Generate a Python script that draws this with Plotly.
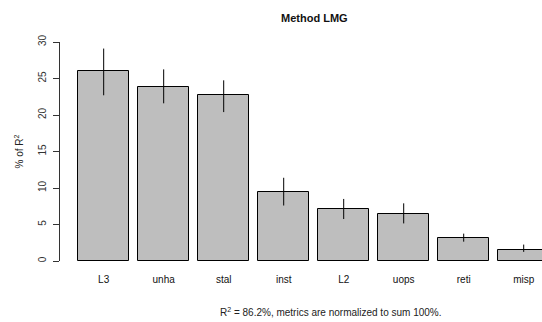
import plotly.graph_objects as go

categories = ["L3", "unha", "stal", "inst", "L2", "uops", "reti", "misp"]
values = [26.0, 23.9, 22.7, 9.5, 7.1, 6.4, 3.1, 1.55]
lower = [22.7, 21.6, 20.4, 7.6, 5.75, 5.15, 2.65, 1.25]
upper = [29.1, 26.25, 24.75, 11.4, 8.5, 7.9, 3.75, 2.25]
y_ticks = [0, 5, 10, 15, 20, 25, 30]

err_plus = [u - v for u, v in zip(upper, values)]
err_minus = [v - l for v, l in zip(values, lower)]

W, H = 542, 322
L, R, T, B = 60, 0, 42, 61
pw = W - L - R

def px(x):
    return (x - L) / pw

fig = go.Figure(go.Bar(
    x=categories, y=values,
    width=0.845,
    marker=dict(color="#bebebe", line=dict(color="black", width=1)),
    error_y=dict(type="data", symmetric=False, array=err_plus, arrayminus=err_minus,
                 color="black", thickness=1, width=0),
))

font = "Liberation Sans, Arial, Helvetica, sans-serif"
fig.update_layout(
    width=W, height=H,
    margin=dict(l=L, r=R, t=T, b=B, pad=0),
    paper_bgcolor="white", plot_bgcolor="white",
    showlegend=False,
    font=dict(family=font, size=10, color="#222"),
    bargap=0,
    xaxis=dict(range=[-0.728, 7.305], showline=False, showgrid=False, zeroline=False,
               ticks="outside", ticklen=9, tickcolor="rgba(0,0,0,0)",
               tickfont=dict(size=10, color="#111")),
    yaxis=dict(range=[0, 30], tickvals=y_ticks, showgrid=False, zeroline=False,
               showline=True, linecolor="#333", linewidth=1,
               ticks="outside", ticklen=6, tickcolor="#333", tickangle=-90,
               ticklabelstandoff=3,
               tickfont=dict(size=10, color="#333")),
    annotations=[
        dict(text="<b>Method LMG</b>", x=px(314), y=1 + (T - 18) / (H - T - B),
             xref="paper", yref="paper", showarrow=False,
             font=dict(size=11, color="#111"), xanchor="center", yanchor="middle"),
        dict(text="% of R<sup>2</sup>", x=px(18), y=0.5, textangle=-90,
             xref="paper", yref="paper", showarrow=False,
             font=dict(size=10, color="#222"), xanchor="center", yanchor="middle"),
        dict(text="R<sup>2</sup> = 86.2%, metrics are normalized to sum 100%.",
             x=px(331), y=-(312 - (H - B)) / (H - T - B),
             xref="paper", yref="paper", showarrow=False,
             font=dict(size=10, color="#222"), xanchor="center", yanchor="middle"),
    ],
)

fig.write_html("out.html")
